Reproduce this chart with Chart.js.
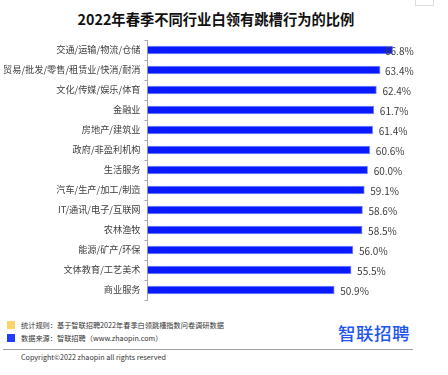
<!DOCTYPE html>
<html>
<head>
<meta charset="utf-8">
<script src="https://cdn.jsdelivr.net/npm/chart.js@4"></script>
<style>
  html, body { margin: 0; padding: 0; background: #fff; }
  body { width: 448px; height: 375px; position: relative; overflow: hidden;
         font-family: "Noto Sans CJK SC", "Noto Sans", sans-serif; }
  #title { position: absolute; top: 8px; left: 0; width: 432px; text-align: center;
           font-size: 14.3px; font-weight: bold; color: #111; }
  #wrap { position: absolute; left: 0; top: 0; width: 448px; height: 310px; }
  .note { position: absolute; left: 21px; font-size: 7.2px; color: #333; white-space: nowrap; }
  .sq { position: absolute; left: 7px; width: 8px; height: 8px; }
  #logo { position: absolute; left: 338px; top: 320px; font-size: 17.5px; font-weight: 500;
          color: #1f55f0; letter-spacing: 0.5px; }
  #rule { position: absolute; left: 3px; top: 349px; width: 410px; height: 1px; background: #a0a0a0; }
  #corner { position: absolute; left: 415px; top: -2px; width: 17px; height: 6px; border: 1px solid #ddd; }
</style>
</head>
<body>
<div id="corner"></div>
<div id="title">2022年春季不同行业白领有跳槽行为的比例</div>
<div id="wrap"><canvas id="chart" width="448" height="310"></canvas></div>
<div class="sq" style="top:321px;background:#ffd36b"></div>
<div class="note" style="top:320px">统计规则：基于智联招聘2022年春季白领跳槽指数问卷调研数据</div>
<div class="sq" style="top:334px;background:#1f3cff"></div>
<div class="note" style="top:333px">数据来源：智联招聘（www.zhaopin.com）</div>
<div id="logo">智联招聘</div>
<div id="rule"></div>
<div class="note" style="top:352px">Copyright©2022 zhaopin all rights reserved</div>
<script>
const industries = [
  "交通/运输/物流/仓储",
  "贸易/批发/零售/租赁业/快消/耐消",
  "文化/传媒/娱乐/体育",
  "金融业",
  "房地产/建筑业",
  "政府/非盈利机构",
  "生活服务",
  "汽车/生产/加工/制造",
  "IT/通讯/电子/互联网",
  "农林渔牧",
  "能源/矿产/环保",
  "文体教育/工艺美术",
  "商业服务"
];
const ratios = [66.8, 63.4, 62.4, 61.7, 61.4, 60.6, 60.0, 59.1, 58.6, 58.5, 56.0, 55.5, 50.9];

const valueLabels = {
  id: "valueLabels",
  afterDatasetsDraw(chart) {
    const ctx = chart.ctx;
    const meta = chart.getDatasetMeta(0);
    ctx.save();
    ctx.font = "10px 'Noto Sans CJK SC', sans-serif";
    ctx.fillStyle = "#404040";
    ctx.textBaseline = "middle";
    meta.data.forEach((bar, i) => {
      const x = Math.min(bar.x + 6, chart.chartArea.right - 56);
      ctx.fillText(ratios[i].toFixed(1) + "%", x, bar.y + 1);
    });
    ctx.restore();
  }
};

new Chart(document.getElementById("chart"), {
  type: "bar",
  data: {
    labels: industries,
    datasets: [{
      data: ratios,
      backgroundColor: "#0a1aff",
      borderColor: "#8090ff",
      borderWidth: 1,
      barThickness: 8
    }]
  },
  options: {
    indexAxis: "y",
    responsive: false,
    animation: false,
    layout: { padding: { top: 40, bottom: 10, right: 7, left: 0 } },
    plugins: { legend: { display: false }, tooltip: { enabled: false } },
    scales: {
      x: { display: false, min: 0, max: 80 },
      y: {
        afterFit(scale) { scale.width = 147.5; },
        border: { display: true, color: "#a6a6a6", width: 1 },
        grid: { offset: true, drawOnChartArea: false, drawTicks: true, tickLength: 3, color: "#a6a6a6" },
        ticks: {
          color: "#404040",
          padding: 4,
          autoSkip: false,
          font: { size: 9.2, family: "'Noto Sans CJK SC', sans-serif" }
        }
      }
    }
  },
  plugins: [valueLabels]
});
</script>
</body>
</html>
